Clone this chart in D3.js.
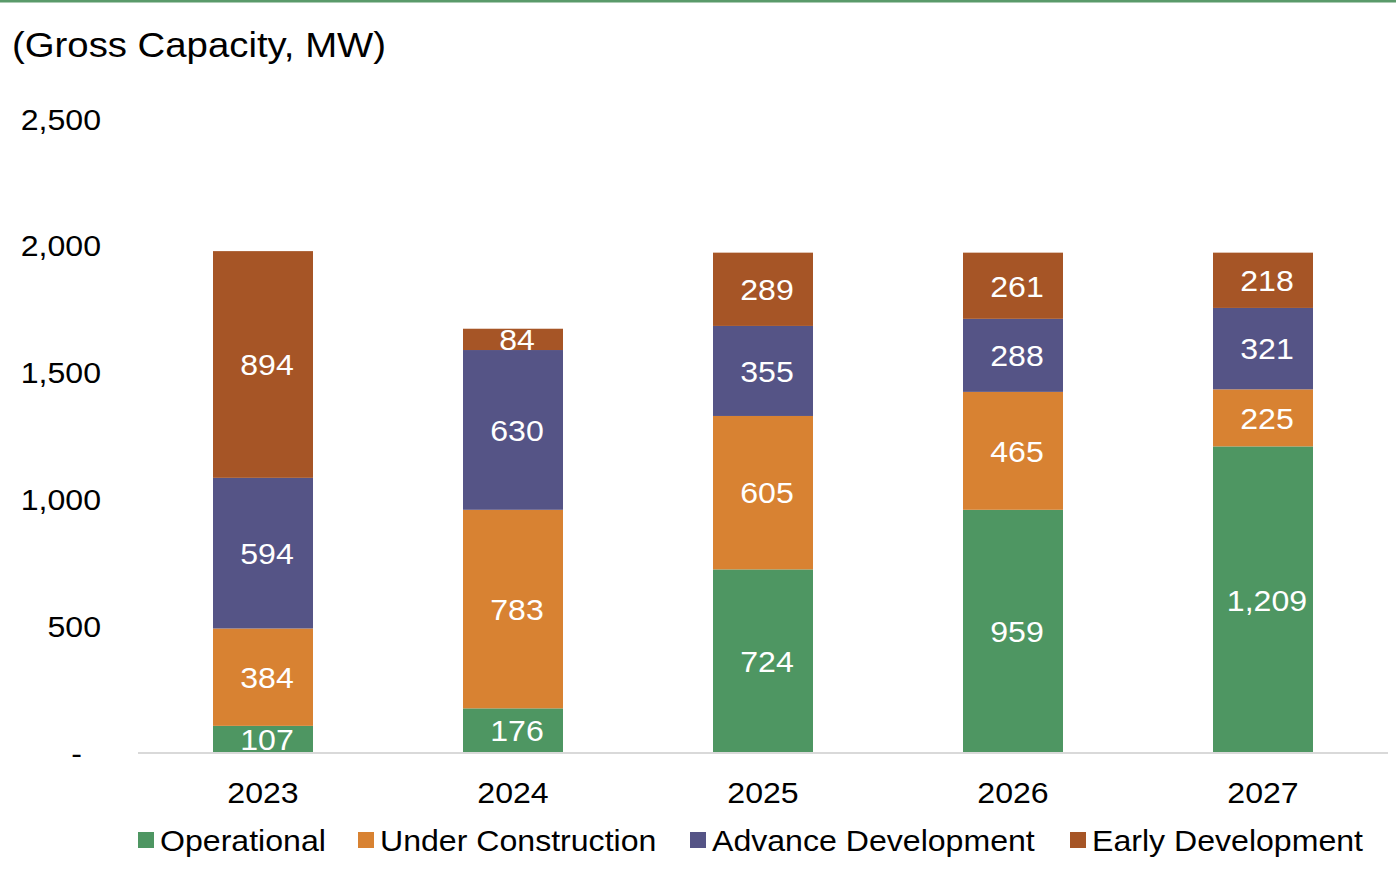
<!DOCTYPE html>
<html>
<head>
<meta charset="utf-8">
<script src="https://cdn.jsdelivr.net/npm/d3@7"></script>
<style>
body { margin: 0; background: #fff; }
svg { display: block; font-family: "Liberation Sans", Arial, sans-serif; }
</style>
</head>
<body>
<div id="chart"></div>
<script>
// data
const years = ["2023", "2024", "2025", "2026", "2027"];
const seriesNames = ["Operational", "Under Construction", "Advance Development", "Early Development"];
const operational = [107, 176, 724, 959, 1209];
const underConstruction = [384, 783, 605, 465, 225];
const advanceDevelopment = [594, 630, 355, 288, 321];
const earlyDevelopment = [894, 84, 289, 261, 218];
const yTicks = [0, 500, 1000, 1500, 2000, 2500];
const colors = ["#4e9662", "#d88232", "#555486", "#a65526"];

var width = 1396, height = 886;
var margin = { top: 119, right: 8, bottom: 133, left: 138 };
var sx = 1.07; // the original text is drawn slightly wider

function place(px, py, s) {
    return "translate(" + px + "," + py + ") scale(" + (s || sx) + ",1)";
}

var rows = years.map((y, i) => ({
    year: y,
    "Operational": operational[i],
    "Under Construction": underConstruction[i],
    "Advance Development": advanceDevelopment[i],
    "Early Development": earlyDevelopment[i]
}));
var stacked = d3.stack().keys(seriesNames)(rows);

var svg = d3.select("#chart").append("svg")
    .attr("width", width)
    .attr("height", height);

// green rule across the top
svg.append("rect").attr("x", 0).attr("y", 0).attr("width", width).attr("height", 2.5).attr("fill", "#5a9a6a");

svg.append("text")
    .attr("transform", place(12, 57, 1.065))
    .attr("font-size", 36)
    .attr("fill", "#000")
    .text("(Gross Capacity, MW)");

var x = d3.scaleBand()
    .domain(years)
    .range([margin.left, width - margin.right])
    .paddingInner(0.6)
    .paddingOuter(0.3);

var y = d3.scaleLinear()
    .domain([0, 2500])
    .range([height - margin.bottom, margin.top]);

// y tick labels
svg.append("g")
    .selectAll("text")
    .data(yTicks)
    .enter()
    .append("text")
    .attr("transform", d => place(d === 0 ? 82 : 101, y(d)))
    .attr("dy", "0.35em")
    .attr("text-anchor", "end")
    .attr("font-size", 30)
    .attr("fill", "#000")
    .text(d => d === 0 ? "-" : d3.format(",")(d));

// bars
var layers = svg.append("g")
    .selectAll("g")
    .data(stacked)
    .enter()
    .append("g")
    .attr("fill", (d, i) => colors[i]);

layers.selectAll("rect")
    .data(d => d)
    .enter()
    .append("rect")
    .attr("x", d => x(d.data.year))
    .attr("width", x.bandwidth())
    .attr("y", d => y(d[1]))
    .attr("height", d => y(d[0]) - y(d[1]));

// white data labels
layers.selectAll("text")
    .data(d => d)
    .enter()
    .append("text")
    .attr("transform", d => place(x(d.data.year) + x.bandwidth() / 2 + 4, (y(d[0]) + y(d[1])) / 2))
    .attr("dy", "0.36em")
    .attr("text-anchor", "middle")
    .attr("font-size", 30)
    .attr("fill", "#fff")
    .text(d => d3.format(",")(d[1] - d[0]));

// baseline
svg.append("line")
    .attr("x1", margin.left).attr("x2", width - margin.right)
    .attr("y1", y(0)).attr("y2", y(0))
    .attr("stroke", "#d9d9d9").attr("stroke-width", 2);

// x labels
svg.append("g")
    .selectAll("text")
    .data(years)
    .enter()
    .append("text")
    .attr("transform", d => place(x(d) + x.bandwidth() / 2, 792))
    .attr("dy", "0.35em")
    .attr("text-anchor", "middle")
    .attr("font-size", 30)
    .attr("fill", "#000")
    .text(d => d);

// legend
var legendX = [138, 358, 690, 1070];
var legend = svg.append("g")
    .selectAll("g")
    .data(seriesNames)
    .enter()
    .append("g")
    .attr("transform", (d, i) => "translate(" + legendX[i] + ",840)");
legend.append("rect")
    .attr("x", 0).attr("y", -8)
    .attr("width", 16).attr("height", 16)
    .attr("fill", (d, i) => colors[i]);
legend.append("text")
    .attr("transform", place(22, 0))
    .attr("dy", "0.35em")
    .attr("font-size", 30)
    .attr("fill", "#000")
    .text(d => d);
</script>
</body>
</html>
